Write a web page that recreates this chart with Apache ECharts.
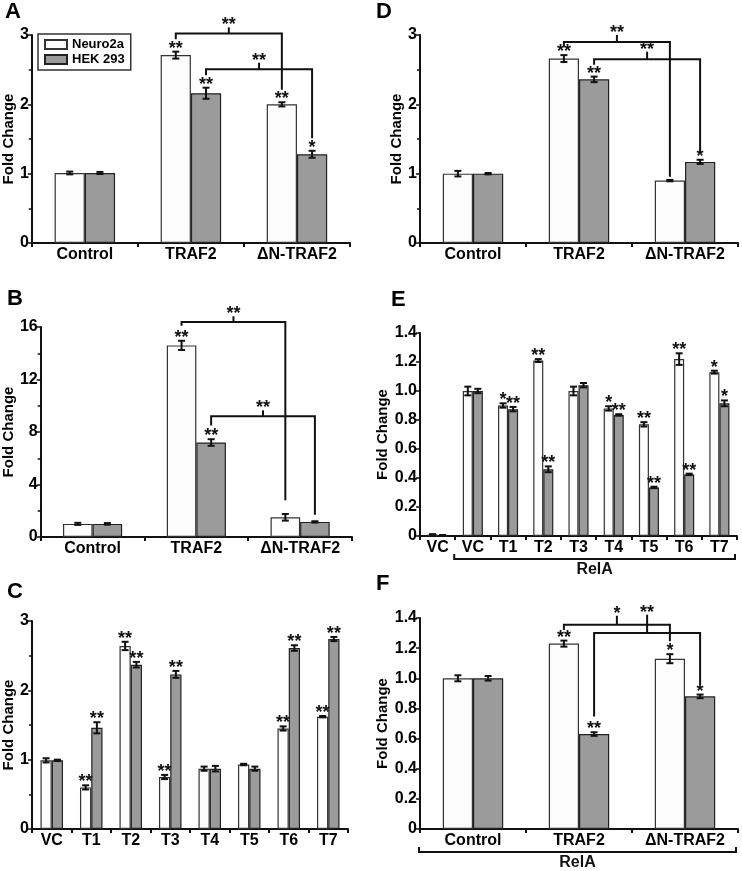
<!DOCTYPE html>
<html><head><meta charset="utf-8">
<script src="https://cdn.jsdelivr.net/npm/echarts@6/dist/echarts.min.js"></script>
<style>html,body{margin:0;padding:0;background:#fff}#c{width:742px;height:871px}</style>
</head><body><div id="c"></div>
<script>
// ---------- DATA ----------
const seriesNames = ['Neuro2a', 'HEK 293'];
const catsTraf = ['Control', 'TRAF2', 'ΔN-TRAF2'];
const catsC = ['VC', 'T1', 'T2', 'T3', 'T4', 'T5', 'T6', 'T7'];
const catsE = ['VC', 'VC', 'T1', 'T2', 'T3', 'T4', 'T5', 'T6', 'T7'];

// Panel A
const aNeuro = [1.01, 2.71, 2.00];
const aNeuroErr = [0.02, 0.05, 0.03];
const aHek = [1.01, 2.16, 1.28];
const aHekErr = [0.015, 0.08, 0.05];
const aStarsN = ['', '**', '**'];
const aStarsH = ['', '**', '*'];
// bracket: [fromCat, fromSeries, fromEnd, toCat, toSeries, toEnd, level, tickTop, label]
const aBrackets = [[1, 0, 2.94, 2, 0, 2.21, 3.02, 3.11, '**'], [1, 1, 2.42, 2, 1, 1.51, 2.505, 2.60, '**']];

// Panel B
const bNeuro = [1.0, 14.6, 1.5];
const bNeuroErr = [0.08, 0.35, 0.25];
const bHek = [1.0, 7.2, 1.15];
const bHekErr = [0.06, 0.25, 0.05];
const bStarsN = ['', '**', ''];
const bStarsH = ['', '**', ''];
const bBrackets = [[1, 0, 16.1, 2, 0, 2.8, 16.38, 16.82, '**'], [1, 1, 8.5, 2, 1, 1.7, 9.2, 9.65, '**']];

// Panel C
const cNeuro = [0.99, 0.60, 2.64, 0.75, 0.87, 0.93, 1.45, 1.62];
const cNeuroErr = [0.03, 0.03, 0.06, 0.03, 0.03, 0.01, 0.03, 0.01];
const cHek = [0.99, 1.46, 2.37, 2.23, 0.87, 0.87, 2.61, 2.74];
const cHekErr = [0.01, 0.08, 0.04, 0.05, 0.04, 0.03, 0.04, 0.03];
const cStarsN = ['', '**', '**', '**', '', '', '**', '**'];
const cStarsH = ['', '**', '**', '**', '', '', '**', '**'];
const cBrackets = [];

// Panel D
const dNeuro = [1.0, 2.66, 0.90];
const dNeuroErr = [0.04, 0.05, 0.01];
const dHek = [1.0, 2.36, 1.17];
const dHekErr = [0.01, 0.04, 0.03];
const dStarsN = ['', '**', ''];
const dStarsH = ['', '**', '*'];
const dBrackets = [[1, 0, 2.83, 2, 0, 0.956, 2.90, 3.0, '**'], [1, 1, 2.57, 2, 1, 1.32, 2.65, 2.76, '**']];

// Panel E
const eNeuro = [0.01, 1.00, 0.90, 1.21, 1.00, 0.88, 0.77, 1.22, 1.13];
const eNeuroErr = [0.003, 0.03, 0.015, 0.01, 0.03, 0.015, 0.015, 0.04, 0.01];
const eHek = [0.005, 1.00, 0.875, 0.46, 1.04, 0.835, 0.335, 0.425, 0.915];
const eHekErr = [0.002, 0.015, 0.015, 0.02, 0.015, 0.005, 0.005, 0.005, 0.02];
const eStarsN = ['', '', '*', '**', '', '*', '**', '**', '*'];
const eStarsH = ['', '', '**', '**', '', '**', '**', '**', '*'];
const eBrackets = [];
const eGroup = [1, 8, 'RelA'];

// Panel F
const fNeuro = [1.0, 1.23, 1.13];
const fNeuroErr = [0.02, 0.02, 0.03];
const fHek = [1.0, 0.63, 0.88];
const fHekErr = [0.015, 0.012, 0.012];
const fStarsN = ['', '**', '*'];
const fStarsH = ['', '**', '*'];
const fBrackets = [[1, 0, 1.32, 2, 0, 1.245, 1.356, 1.415, '*'], [1, 1, 0.747, 2, 1, 0.957, 1.30, 1.422, '**']];
const fGroup = [0, 2, 'RelA'];

// ---------- RENDER ----------
const FONT = '"Liberation Sans", Arial, Helvetica, sans-serif';
const GAP = 0.43;
const WHITE = '#fcfcfc', GRAY = '#9b9b9b', INK = '#111';
const STAR_FONT = 'bold 18px ' + FONT;

const intFmt = v => String(Math.round(v));
const decFmt = v => (v === 0 ? '0' : v.toFixed(1));

const panels = [
  {label: 'A', cats: catsTraf, n: aNeuro, nE: aNeuroErr, h: aHek, hE: aHekErr, sN: aStarsN, sH: aStarsH, br: aBrackets,
   max: 3, interval: 1, minor: true, fmt: intFmt, grid: {left: 29, top: 35, width: 321, height: 208}, nameGap: 13, title: {left: 5, top: 1}},
  {label: 'B', cats: catsTraf, n: bNeuro, nE: bNeuroErr, h: bHek, hE: bHekErr, sN: bStarsN, sH: bStarsH, br: bBrackets,
   max: 16, interval: 4, minor: true, fmt: intFmt, grid: {left: 31, top: 327, width: 321, height: 210}, nameGap: 13, title: {left: 7, top: 288}},
  {label: 'C', cats: catsC, n: cNeuro, nE: cNeuroErr, h: cHek, hE: cHekErr, sN: cStarsN, sH: cStarsH, br: cBrackets,
   max: 3, interval: 1, minor: true, fmt: intFmt, grid: {left: 32, top: 621, width: 316, height: 208}, nameGap: 16, title: {left: 7, top: 581}},
  {label: 'D', cats: catsTraf, n: dNeuro, nE: dNeuroErr, h: dHek, hE: dHekErr, sN: dStarsN, sH: dStarsH, br: dBrackets,
   max: 3, interval: 1, minor: true, fmt: intFmt, grid: {left: 420, top: 35, width: 318, height: 208}, nameGap: 16, title: {left: 376, top: 1}},
  {label: 'E', cats: catsE, n: eNeuro, nE: eNeuroErr, h: eHek, hE: eHekErr, sN: eStarsN, sH: eStarsH, br: eBrackets, group: eGroup,
   max: 1.4, interval: 0.2, minor: false, fmt: decFmt, grid: {left: 420, top: 333, width: 317, height: 203}, nameGap: 27, title: {left: 391, top: 289}},
  {label: 'F', cats: catsTraf, n: fNeuro, nE: fNeuroErr, h: fHek, hE: fHekErr, sN: fStarsN, sH: fStarsH, br: fBrackets, group: fGroup,
   max: 1.4, interval: 0.2, minor: false, fmt: decFmt, grid: {left: 420, top: 618, width: 318, height: 211}, nameGap: 27, title: {left: 376, top: 573}}
];

function errRender(p) {
  return function (params, api) {
    const k = api.value(0), v = api.value(1), e = api.value(2), s = api.value(3);
    const band = api.size([1, 0])[0];
    const bw = band * (1 - GAP) / 2;
    const cx = api.coord([k, v])[0] + (s - 0.5) * bw;
    const yt = api.coord([k, v + e])[1], yb = api.coord([k, Math.max(0, v - e)])[1];
    const cap = 3.5;
    const st = {stroke: INK, lineWidth: 2};
    const ch = [
      {type: 'line', shape: {x1: cx, y1: yt, x2: cx, y2: yb}, style: st},
      {type: 'line', shape: {x1: cx - cap, y1: yt, x2: cx + cap, y2: yt}, style: st},
      {type: 'line', shape: {x1: cx - cap, y1: yb, x2: cx + cap, y2: yb}, style: st}
    ];
    const star = (s === 0 ? p.sN : p.sH)[k];
    if (star) ch.push({type: 'text', style: {text: star, x: cx, y: yt - 3, align: 'center', verticalAlign: 'middle',
      font: STAR_FONT, fill: INK}});
    return {type: 'group', children: ch};
  };
}

function brRender(p) {
  return function (params, api) {
    const b = p.br[params.dataIndex];
    const band = api.size([1, 0])[0];
    const bw = band * (1 - GAP) / 2;
    const x1 = api.coord([b[0], 0])[0] + (b[1] - 0.5) * bw;
    const x2 = api.coord([b[3], 0])[0] + (b[4] - 0.5) * bw;
    const y1 = api.coord([b[0], b[2]])[1], y2 = api.coord([b[3], b[5]])[1];
    const yl = api.coord([b[0], b[6]])[1], yt = api.coord([b[0], b[7]])[1];
    const xm = (x1 + x2) / 2;
    const st = {stroke: INK, lineWidth: 2, fill: null};
    return {type: 'group', children: [
      {type: 'polyline', shape: {points: [[x1, y1], [x1, yl], [x2, yl], [x2, y2]]}, style: st},
      {type: 'line', shape: {x1: xm, y1: yl, x2: xm, y2: yt}, style: st},
      {type: 'text', style: {text: b[8], x: xm, y: yt - 2, align: 'center', verticalAlign: 'middle', font: STAR_FONT, fill: INK}}
    ]};
  };
}

function groupRender(g) {
  return function (params, api) {
    const band = api.size([1, 0])[0];
    const xa = api.coord([g[0], 0])[0] - band / 2 - 1;
    const xb = api.coord([g[1], 0])[0] + band / 2 - 2;
    const y0 = api.coord([g[0], 0])[1] + 23;
    const st = {stroke: INK, lineWidth: 2, fill: null};
    return {type: 'group', children: [
      {type: 'polyline', shape: {points: [[xa, y0 - 5], [xa, y0], [xb, y0], [xb, y0 - 5]]}, style: st},
      {type: 'text', style: {text: g[2], x: (xa + xb) / 2, y: y0 + 11, align: 'center', verticalAlign: 'middle', font: 'bold 16px ' + FONT, fill: INK}}
    ]};
  };
}

const grids = [], xAxes = [], yAxes = [], series = [], titles = [];
panels.forEach((p, i) => {
  grids.push(Object.assign({containLabel: false}, p.grid));
  titles.push({text: p.label, left: p.title.left, top: p.title.top, padding: 0,
    textStyle: {fontSize: 22, fontWeight: 'bold', fontFamily: FONT, color: '#000'}});
  xAxes.push({type: 'category', gridIndex: i, data: p.cats, boundaryGap: true,
    axisLine: {lineStyle: {color: INK, width: 2}},
    axisTick: {show: true, length: 4, interval: 0, lineStyle: {color: INK, width: 2}},
    axisLabel: {interval: 0, margin: 4, color: '#000', fontSize: 16, fontWeight: 'bold', fontFamily: FONT},
    splitLine: {show: false}});
  yAxes.push({type: 'value', gridIndex: i, min: 0, max: p.max, interval: p.interval,
    name: 'Fold Change', nameLocation: 'middle', nameRotate: 90, nameGap: p.nameGap,
    nameTextStyle: {fontSize: 15, fontWeight: 'bold', fontFamily: FONT, color: '#000'},
    axisLine: {show: true, lineStyle: {color: INK, width: 2}},
    axisTick: {show: true, length: 4, lineStyle: {color: INK, width: 1.5}},
    minorTick: {show: p.minor, splitNumber: 2, length: 3, lineStyle: {color: INK, width: 1.5}},
    axisLabel: {margin: 3, color: '#000', fontSize: 16, fontWeight: 'bold', fontFamily: FONT, formatter: p.fmt},
    splitLine: {show: false}});
  series.push({type: 'bar', name: seriesNames[0], xAxisIndex: i, yAxisIndex: i, data: p.n,
    barGap: '0%', barCategoryGap: (GAP * 100) + '%', animation: false,
    itemStyle: {color: WHITE, borderColor: '#333', borderWidth: 1.2}});
  series.push({type: 'bar', name: seriesNames[1], xAxisIndex: i, yAxisIndex: i, data: p.h,
    barGap: '0%', barCategoryGap: (GAP * 100) + '%', animation: false,
    itemStyle: {color: GRAY, borderColor: '#222', borderWidth: 1.2}});
  const errData = [];
  p.cats.forEach((c, k) => { errData.push([k, p.n[k], p.nE[k], 0]); errData.push([k, p.h[k], p.hE[k], 1]); });
  series.push({type: 'custom', xAxisIndex: i, yAxisIndex: i, data: errData, renderItem: errRender(p),
    encode: {x: 0, y: 1}, z: 5, clip: false, animation: false, silent: true});
  if (p.br.length) {
    series.push({type: 'custom', xAxisIndex: i, yAxisIndex: i, data: p.br.map(b => [b[0], b[6]]),
      renderItem: brRender(p), encode: {x: 0, y: 1}, z: 6, clip: false, animation: false, silent: true});
  }
  if (p.group) {
    series.push({type: 'custom', xAxisIndex: i, yAxisIndex: i, data: [[p.group[0], 0]],
      renderItem: groupRender(p.group), encode: {x: 0, y: 1}, z: 6, clip: false, animation: false, silent: true});
  }
});

const chart = echarts.init(document.getElementById('c'), null, {renderer: 'canvas'});
chart.setOption({
  animation: false,
  backgroundColor: '#fff',
  title: titles,
  legend: {left: 38, top: 34, orient: 'vertical', padding: [4, 6, 4, 6], itemGap: 2, itemWidth: 22, itemHeight: 9,
    borderColor: '#333', borderWidth: 1.5, icon: 'rect', selectedMode: false, data: seriesNames,
    textStyle: {fontSize: 13, fontWeight: 'bold', fontFamily: FONT, color: '#000'}},
  grid: grids, xAxis: xAxes, yAxis: yAxes, series: series
});
</script></body></html>
